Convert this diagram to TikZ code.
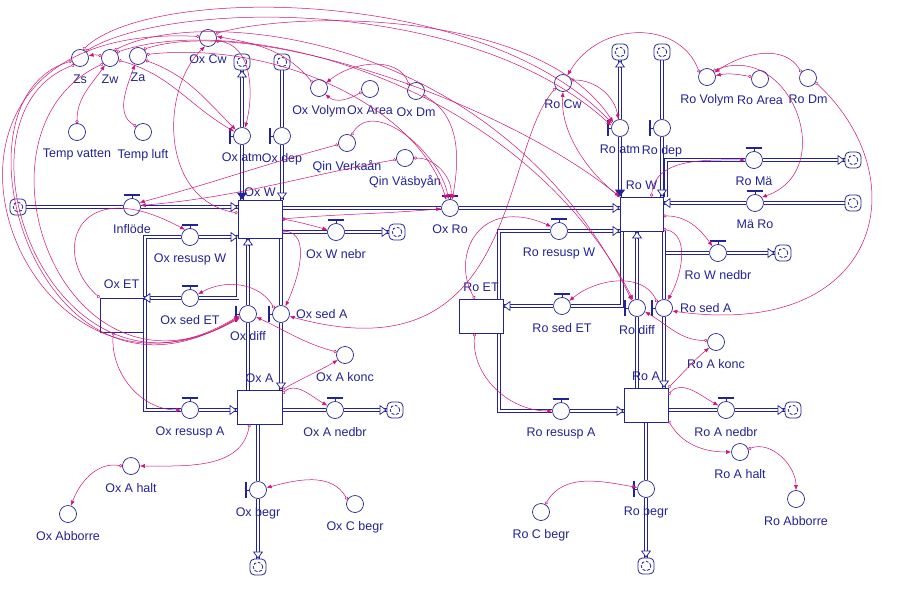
\documentclass[tikz,border=0pt]{standalone}
\usepackage{fontspec}
\setmainfont{Liberation Sans}
\usetikzlibrary{arrows.meta,backgrounds}
\definecolor{sblue}{RGB}{35,35,150}
\definecolor{smag}{RGB}{205,20,120}
\tikzset{
  conv/.style={circle, draw=sblue, fill=white, line width=0.7pt, minimum size=17pt, inner sep=0pt},
  valve/.style={conv},
  stock/.style={rectangle, draw=sblue, fill=white, line width=0.7pt, inner sep=0pt},
  cloud/.style={rectangle, rounded corners=4.5pt, draw=sblue, fill=white, line width=0.8pt,
    minimum size=16pt, inner sep=0pt,
    path picture={\draw[sblue, dash pattern=on 3pt off 1.6pt, line width=0.8pt] (path picture bounding box.center) circle (4.8pt);}},
  lbl/.style={text=sblue, font=\fontsize{12.5}{14}\selectfont, inner sep=1pt},
  every label/.style={lbl}, label distance=7pt,
  pipe/.style={draw=sblue, line width=0.7pt, double=white, double distance=2.2pt},
  pipehead/.style={draw=sblue, line width=0.7pt, -{Triangle[fill=white, length=7pt, width=10pt]}},
  inhead/.style={draw=sblue, line width=0.7pt, -{Triangle[fill=sblue, length=7pt, width=10pt]}},
  link/.style={draw=smag, line width=0.5pt, {Circle[open, length=3.2pt, width=3.2pt]}-{Latex[length=5pt, width=4pt]}}
}
\newcommand\pipetip[3][pipehead]{\draw[#1] (#2) ++(#3+180:7) -- (#2);}
\newcommand\valveh[1]{\draw[sblue, line width=0.7pt] (#1.north) -- ++(0,3);
  \fill[sblue] ([shift={(-8,2.5)}]#1.north) rectangle ([shift={(8,4.5)}]#1.north);}
\newcommand\valvev[1]{\draw[sblue, line width=0.7pt] (#1.west) -- ++(-3,0);
  \fill[sblue] ([shift={(-4.5,-8)}]#1.west) rectangle ([shift={(-2.5,8)}]#1.west);}

\begin{document}
\begin{tikzpicture}[x=1pt,y=1pt]
%%%%% START %%%%%
\useasboundingbox (0,0) rectangle (902,-605);

% stocks
\node[stock, minimum width=44pt, minimum height=38pt, label={[label distance=2pt]above:Ox W}] (oxw) at (260,-219) {};
\node[stock, minimum width=43pt, minimum height=34pt, label={[label distance=8pt]above:Ox ET}] (oxet) at (121.5,-315) {};
\node[stock, minimum width=45pt, minimum height=34pt, label={[label distance=6pt]above:Ox A}] (oxa) at (259.5,-407) {};
\node[stock, minimum width=43pt, minimum height=34pt, label={[label distance=6pt]above:Ro W}] (row) at (641.5,-214) {};
\node[stock, minimum width=44pt, minimum height=34pt, label={[label distance=6pt]above:Ro ET}] (roet) at (481,-316) {};
\node[stock, minimum width=44pt, minimum height=34pt, label={[label distance=6pt]above:Ro A}] (roa) at (646,-405) {};

% flows, Ox
\node[valve, label=below:Inflöde] (inflode) at (132,-207) {};
\node[valve, label=below:Ox resusp W] (oxresw) at (190,-237) {};
\node[valve, label=below:Ox sed ET] (oxsedet) at (190,-298) {};
\node[valve, label=below:Ox W nebr] (oxwnebr) at (336,-232) {};
\node[valve, label=below:Ox Ro] (oxro) at (450,-208) {};
\node[valve, label=below:Ox atm] (oxatm) at (242,-136) {};
\node[valve, label=below:Ox dep] (oxdep) at (282,-136) {};
\node[valve, label=below:Ox diff] (oxdiff) at (248,-314) {};
\node[valve, label={[label distance=5pt]right:Ox sed A}] (oxseda) at (281,-314) {};
\node[valve, label=below:Ox A nedbr] (oxanedbr) at (335,-410) {};
\node[valve, label=below:Ox resusp A] (oxresa) at (190,-410) {};
\node[valve, label=below:Ox begr] (oxbegr) at (258,-490) {};

% flows, Ro
\node[valve, label=below:Ro atm] (roatm) at (620,-128) {};
\node[valve, label=below:Ro dep] (rodep) at (662,-128) {};
\node[valve, label=below:Ro Mä] (romae) at (754,-160) {};
\node[valve, label=below:Mä Ro] (maero) at (755,-203) {};
\node[valve, label=below:Ro W nedbr] (rownedbr) at (718,-253) {};
\node[valve, label=below:Ro resusp W] (roresw) at (559,-231) {};
\node[valve, label=below:Ro sed ET] (rosedet) at (562,-306) {};
\node[valve, label=below:Ro diff] (rodiff) at (637,-308) {};
\node[valve, label={[label distance=6pt]right:Ro sed A}] (roseda) at (664,-308) {};
\node[valve, label=below:Ro A nedbr] (roanedbr) at (726,-410) {};
\node[valve, label=below:Ro resusp A] (roresa) at (561,-411) {};
\node[valve, label=below:Ro begr] (robegr) at (646,-489) {};

\valveh{inflode} \valveh{oxresw} \valveh{oxsedet} \valveh{oxwnebr} \valveh{oxro}
\valveh{oxanedbr} \valveh{oxresa}
\valvev{oxatm} \valvev{oxdep} \valvev{oxdiff} \valvev{oxseda} \valvev{oxbegr}
\valveh{romae} \valveh{maero} \valveh{rownedbr} \valveh{roresw} \valveh{rosedet}
\valveh{roanedbr} \valveh{roresa}
\valvev{roatm} \valvev{rodep} \valvev{rodiff} \valvev{roseda} \valvev{robegr}

% converters
\node[conv, label=below:Zs] (zs) at (80,-58) {};
\node[conv, label=below:Zw] (zw) at (110,-58) {};
\node[conv, label=below:Za] (za) at (138,-56) {};
\node[conv, label=below:Temp vatten] (tempv) at (77,-132) {};
\node[conv, label=below:Temp luft] (templ) at (143,-132) {};
\node[conv, label=below:Ox Cw] (oxcw) at (208,-38) {};
\node[conv, label=below:Ox Volym] (oxvolym) at (319,-88) {};
\node[conv, label=below:Ox Area] (oxarea) at (370,-89) {};
\node[conv, label=below:Ox Dm] (oxdm) at (416,-91) {};
\node[conv, label=below:Qin Verkaån] (qinv) at (347,-143) {};
\node[conv, label=below:Qin Väsbyån] (qinvas) at (405,-158) {};
\node[conv, label=below:Ox A konc] (oxakonc) at (345,-355) {};
\node[conv, label=below:Ox A halt] (oxahalt) at (131,-466) {};
\node[conv, label=below:Ox Abborre] (oxabborre) at (68,-514) {};
\node[conv, label=below:Ox C begr] (oxcbegr) at (355,-504) {};
\node[conv, label=below:Ro Cw] (rocw) at (563,-83) {};
\node[conv, label=below:Ro Volym] (rovolym) at (707,-77) {};
\node[conv, label=below:Ro Area] (roarea) at (760,-79) {};
\node[conv, label=below:Ro Dm] (rodm) at (808,-78) {};
\node[conv, label=below:Ro A konc] (roakonc) at (716,-342) {};
\node[conv, label=below:Ro A halt] (roahalt) at (740,-452) {};
\node[conv, label=below:Ro Abborre] (roabborre) at (796,-499) {};
\node[conv, label=below:Ro C begr] (rocbegr) at (541,-512) {};

% clouds
\node[cloud] (cl1) at (18,-207) {};
\node[cloud] (cl2) at (242,-62) {};
\node[cloud] (cl3) at (282,-62) {};
\node[cloud] (cl4) at (397,-232) {};
\node[cloud] (cl5) at (395,-410) {};
\node[cloud] (cl6) at (258,-567) {};
\node[cloud] (cl7) at (620,-52) {};
\node[cloud] (cl8) at (662,-52) {};
\node[cloud] (cl9) at (853,-160) {};
\node[cloud] (cl10) at (853,-203) {};
\node[cloud] (cl11) at (783,-253) {};
\node[cloud] (cl12) at (793,-410) {};
\node[cloud] (cl13) at (646,-566) {};

\coordinate (oxj1) at (145,-237);
\coordinate (oxj2) at (145,-410);
\coordinate (roj1) at (499,-231);
\coordinate (roj2) at (499,-411);
\coordinate (roj3) at (666,-197);
\coordinate (roj4) at (622,-231);

% pipes
\begin{pgfonlayer}{background}
\fill[white] (0,0) rectangle (902,-605);
\draw[pipe] (cl1) -- (inflode) -- (oxw.west |- inflode);
\draw[pipe] (cl2) -- (oxatm) -- (oxatm |- oxw.north);
\draw[pipe] (cl3) -- (oxdep) -- (oxdep |- oxw.north);
\draw[pipe] (oxw.east |- oxwnebr) -- (oxwnebr) -- (cl4);
\draw[pipe] (oxw.east |- oxro) -- (oxro) -- (row.west |- oxro);
\draw[pipe] (oxw.west |- oxresw) -- (oxresw) -- (oxj1) -- (oxj2) -- (oxresa) -- (oxa.west |- oxresa);
\draw[pipe] (oxw.south west) -- (oxw.south west |- oxsedet) -- (oxsedet) -- (oxet.east |- oxsedet);
\draw[pipe] (oxdiff |- oxa.north) -- (oxdiff) -- (oxdiff |- oxw.south);
\draw[pipe] (oxseda |- oxw.south) -- (oxseda) -- (oxseda |- oxa.north);
\draw[pipe] (oxa.east |- oxanedbr) -- (oxanedbr) -- (cl5);
\draw[pipe] (oxbegr |- oxa.south) -- (oxbegr) -- (cl6);
\draw[pipe] (cl7) -- (roatm) -- (roatm |- row.north);
\draw[pipe] (cl8) -- (rodep) -- (rodep |- row.north);
\draw[pipe] (roj3) -- (roj3 |- romae) -- (romae) -- (cl9);
\draw[pipe] (cl10) -- (maero) -- (row.east |- maero);
\draw[pipe] (row.east |- rownedbr) -- (rownedbr) -- (cl11);
\draw[pipe] (row.west |- roresw) -- (roresw) -- (roj1) -- (roj2) -- (roresa) -- (roa.west |- roresa);
\draw[pipe] (roj4) -- (roj4 |- rosedet) -- (rosedet) -- (roet.east |- rosedet);
\draw[pipe] (rodiff |- roa.north) -- (rodiff) -- (rodiff |- row.south);
\draw[pipe] (roseda |- row.south) -- (roseda) -- (roseda |- roa.north);
\draw[pipe] (roa.east |- roanedbr) -- (roanedbr) -- (cl12);
\draw[pipe] (robegr |- roa.south) -- (robegr) -- (cl13);
\end{pgfonlayer}

\pipetip{oxw.west |- inflode}{0}
\pipetip[inhead]{oxatm |- oxw.north}{-90}
\pipetip{cl2.south}{90}
\pipetip{oxdep |- oxw.north}{-90}
\pipetip{cl4.west}{0}
\pipetip{row.west |- oxro}{0}
\pipetip{oxw.west |- oxresw}{0}
\pipetip{oxa.west |- oxresa}{0}
\pipetip{oxet.east |- oxsedet}{180}
\pipetip{oxdiff |- oxw.south}{90}
\pipetip{oxseda |- oxa.north}{-90}
\pipetip{cl5.west}{0}
\pipetip{cl6.north}{-90}
\pipetip[inhead]{roatm |- row.north}{-90}
\pipetip{cl7.south}{90}
\pipetip{rodep |- row.north}{-90}
\pipetip{cl9.west}{0}
\pipetip{row.east |- maero}{180}
\pipetip{cl11.west}{0}
\pipetip{row.west |- roresw}{0}
\pipetip{roa.west |- roresa}{0}
\pipetip{roet.east |- rosedet}{180}
\pipetip{rodiff |- row.south}{90}
\pipetip{roseda |- roa.north}{-90}
\pipetip{cl12.west}{0}
\pipetip{cl13.north}{-90}

% connectors, Ox
\draw[link] (tempv.90) to[out=90,in=235] (zw.235);
\draw[link] (templ.140) to[out=150,in=250] (za.250);
\draw[link] (zw.165) to[out=170,in=10] (zs.15);
\draw[link] (za.330) to[out=-20,in=135] (oxatm.135);
\draw[link] (zw.345) to[out=-15,in=150] (oxatm.150);
\draw[link] (oxcw.340) to[out=-5,in=75] (oxatm.70);
\draw[link] (oxvolym.140) to[out=130,in=-10] (oxcw.10);
\draw[link] (oxarea.200) to[out=210,in=-40] (oxvolym.-45);
\draw[link] (oxdm.140) to[out=110,in=40] (oxvolym.35);
\draw[link] (oxdm.330) to[out=-30,in=80] (oxro.75);
\draw[link] (qinv.190) to[out=195,in=15] (inflode.30);
\draw[link] (qinvas.190) to[out=190,in=5] (inflode.10);
\draw[link] (qinv.60) to[out=60,in=100] (oxro.100);
\draw[link] (qinvas.0) to[out=0,in=85] (oxro.85);
\draw[link] (oxw.east) to[out=5,in=185] (oxro.185);
\draw[link] (oxw.east) to[out=-10,in=165] (oxwnebr.165);
\draw[link] (oxw.-28) to[out=-5,in=65] (oxseda.60);
\draw[link] (oxseda.140) to[out=120,in=30] (oxsedet.25);
\draw[link] (oxakonc.160) to[out=165,in=-25] (oxdiff.-20);
\draw[link] (oxa.north east) to[out=30,in=210] (oxakonc.215);
\draw[link] (oxa.30) to[out=45,in=150] (oxanedbr.150);
\draw[link] (oxa.-120) to[out=-100,in=0] (oxahalt.0);
\draw[link] (oxahalt.180) to[out=170,in=70] (oxabborre.70);
\draw[link] (oxcbegr.150) to[out=120,in=15] (oxbegr.15);
\draw[link] (oxet.-115) to[out=-95,in=180] (oxresa.180);
\draw[link] (oxet.north west) .. controls (50,-255) and (75,-170) .. (oxresw.125);
\draw[link] (oxw.165) .. controls (160,-200) and (160,-90) .. (oxcw.250);

% loops round the left side
\draw[link] (zs.200) .. controls (-60,-100) and (40,-440) .. (oxdiff.195);
\draw[link] (zs.230) .. controls (-60,-115) and (50,-430) .. (oxdiff.200);
\draw[link] (zw.220) .. controls (-40,-130) and (60,-420) .. (oxdiff.205);
\draw[link] (oxcw.170) .. controls (-140,-20) and (20,-450) .. (oxdiff.190);

% arcs over the top
\draw[link] (zs.70) .. controls (150,15) and (480,15) .. (roatm.150);
\draw[link] (zs.50) .. controls (170,0) and (470,5) .. (roatm.165);
\draw[link] (zw.60) .. controls (200,-5) and (500,-30) .. (rodiff.125);
\draw[link] (zw.40) .. controls (240,-10) and (520,-80) .. (rodiff.115);
\draw[link] (za.50) .. controls (250,-15) and (500,-100) .. (row.north west);
\draw[link] (oxcw.30) .. controls (300,-10) and (540,-10) .. (roatm.140);
\draw[link] (za.10) .. controls (280,-40) and (420,-110) .. (oxro.115);

% connectors, Ro
\draw[link] (rocw.20) to[out=0,in=100] (roatm.100);
\draw[link] (rovolym.150) .. controls (680,-20) and (600,-20) .. (rocw.60);
\draw[link] (roarea.165) to[out=170,in=10] (rovolym.10);
\draw[link] (rodm.140) to[out=120,in=35] (rovolym.30);
\draw[link] (rovolym.45) .. controls (790,-40) and (840,-170) .. (maero.40);
\draw[link] (rodm.330) .. controls (920,-180) and (880,-340) .. (roseda.-20);
\draw[link] (row.60) to[out=85,in=180] (romae.180);
\draw[link] (row.-5) to[out=0,in=125] (rownedbr.130);
\draw[link] (row.-35) to[out=-10,in=60] (roseda.65);
\draw[link] (roseda.140) to[out=115,in=40] (rosedet.35);
\draw[link] (roakonc.170) to[out=180,in=-30] (rodiff.-25);
\draw[link] (roa.north east) to[out=45,in=220] (roakonc.220);
\draw[link] (roa.25) to[out=50,in=150] (roanedbr.150);
\draw[link] (roa.-35) to[out=-60,in=180] (roahalt.180);
\draw[link] (roahalt.20) to[out=20,in=90] (roabborre.90);
\draw[link] (rocbegr.60) to[out=60,in=170] (robegr.170);
\draw[link] (roet.-110) to[out=-95,in=180] (roresa.180);
\draw[link] (roet.110) .. controls (450,-255) and (480,-195) .. (roresw.150);
\draw[link] (row.north west) .. controls (585,-170) and (560,-130) .. (rocw.-90);
\draw[link] (rocw.215) .. controls (500,-150) and (520,-380) .. (oxseda.-15);
%%%%% END %%%%%
\end{tikzpicture}
\end{document}
